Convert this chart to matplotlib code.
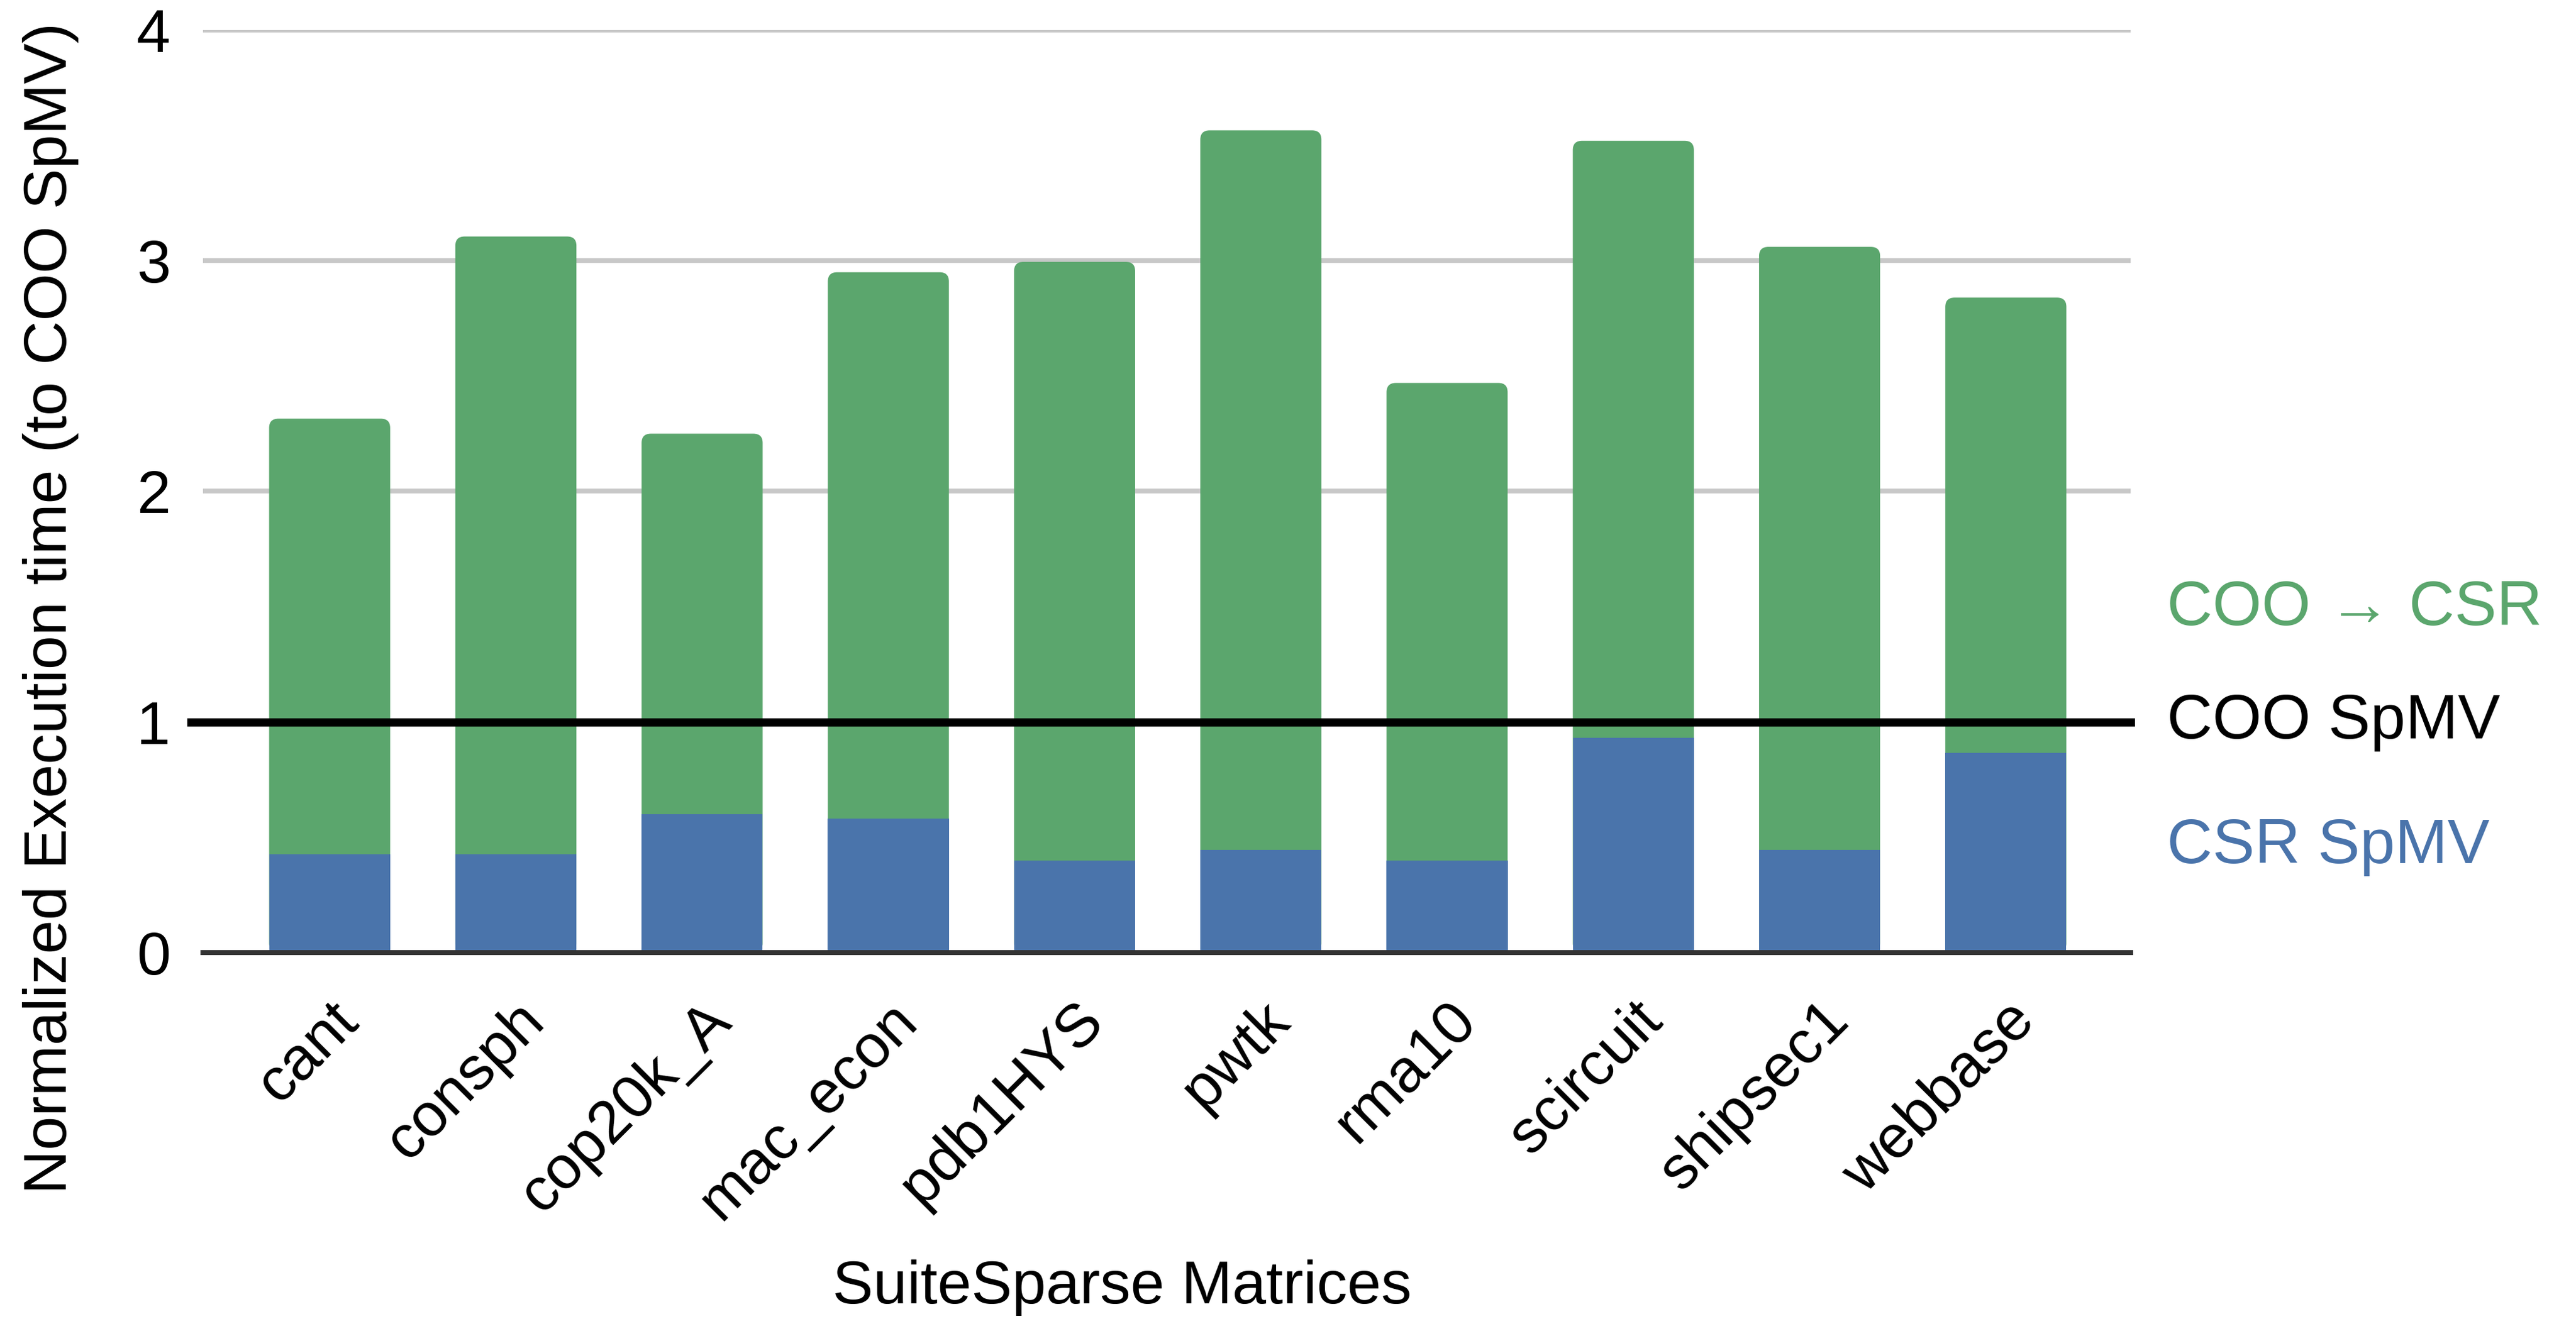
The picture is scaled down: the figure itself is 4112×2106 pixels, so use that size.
import matplotlib
matplotlib.use('Agg')
import matplotlib.pyplot as plt
from matplotlib.patches import FancyBboxPatch

plt.rcParams['font.family'] = ['Liberation Sans', 'DejaVu Sans']

matrices = ['cant', 'consph', 'cop20k_A', 'mac_econ', 'pdb1HYS',
            'pwtk', 'rma10', 'scircuit', 'shipsec1', 'webbase']
csr_spmv = [0.425, 0.425, 0.60, 0.58, 0.40, 0.445, 0.40, 0.93, 0.445, 0.865]
total_time = [2.315, 3.105, 2.25, 2.95, 2.995, 3.565, 2.47, 3.52, 3.06, 2.84]
coo_spmv = 1.0

green = '#5ba66d'
blue = '#4a74ab'

fig = plt.figure(figsize=(16.448, 8.424), dpi=250)
ax = fig.add_axes([0.0788, 0.2778, 0.7483, 0.6994])

x = range(len(matrices))
# green bar spans the whole height, with rounded top; blue drawn over the bottom part
green_bars = ax.bar(x, total_time, width=0.65, color=green, zorder=2)
for rect in green_bars:
    rb = FancyBboxPatch(rect.get_xy(), rect.get_width(), rect.get_height(),
                        boxstyle='round,pad=0,rounding_size=0.05', mutation_aspect=0.8,
                        facecolor=green, edgecolor='none', zorder=2)
    ax.add_patch(rb)
    rect.remove()
ax.bar(x, csr_spmv, width=0.65, color=blue, zorder=2.5)

ax.plot([-0.745, 9.67], [coo_spmv, coo_spmv], color='k', lw=3.8, zorder=3, clip_on=False)

ax.set_xlim(-0.68, 9.67)
ax.set_ylim(0, 4)
ax.set_yticks([0, 1, 2, 3, 4])
ax.yaxis.grid(True, color='#c8c8c8', lw=2.2, zorder=0)
ax.set_axisbelow(True)
for s in ['top', 'right', 'left']:
    ax.spines[s].set_visible(False)
ax.spines['bottom'].set_color('#333333')
ax.spines['bottom'].set_linewidth(2.3)
ax.spines['bottom'].set_zorder(4)
ax.tick_params(axis='both', length=0, labelsize=28)
ax.tick_params(axis='y', pad=15)
ax.set_xticks(list(x))
ax.set_xticklabels(matrices, rotation=45, ha='right', va='top', rotation_mode='anchor', fontsize=28)
ax.tick_params(axis='x', pad=18)

ax.set_ylabel('Normalized Execution time (to COO SpMV)', fontsize=28)
ax.yaxis.set_label_coords(-0.0643, 0.3735)
ax.set_xlabel('SuiteSparse Matrices', fontsize=28)
ax.xaxis.set_label_coords(0.4768, -0.333)

tr = ax.get_yaxis_transform()
ax.text(1.019, 1.49, 'COO \u2192 CSR', color=green, fontsize=29, va='center', ha='left', transform=tr)
ax.text(1.019, coo_spmv, 'COO SpMV', color='k', fontsize=29, va='center', ha='left', transform=tr)
ax.text(1.019, 0.46, 'CSR SpMV', color=blue, fontsize=29, va='center', ha='left', transform=tr)

fig.savefig('out.png', dpi=250)
